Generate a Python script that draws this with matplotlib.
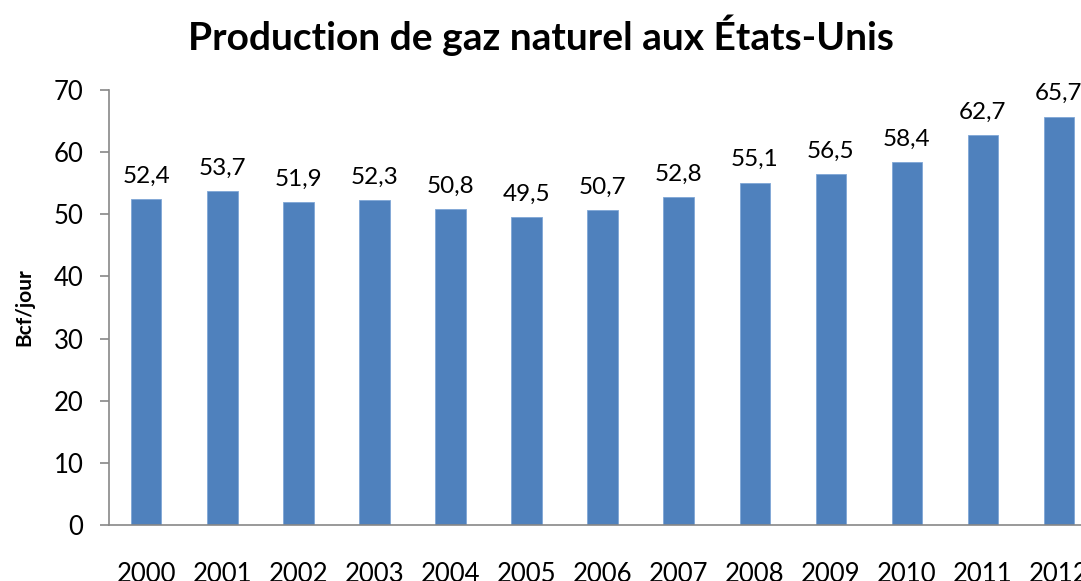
import matplotlib
matplotlib.use("Agg")
import matplotlib.pyplot as plt

years = ["2000", "2001", "2002", "2003", "2004", "2005", "2006",
         "2007", "2008", "2009", "2010", "2011", "2012"]
production = [52.4, 53.7, 51.9, 52.3, 50.8, 49.5, 50.7,
              52.8, 55.1, 56.5, 58.4, 62.7, 65.7]

plt.rcParams['font.family'] = ['Lato', 'DejaVu Sans']

fig = plt.figure(figsize=(10.81, 5.81), dpi=100)
# axes extends past the right edge, as in the cropped original
ax = fig.add_axes([109 / 1081, 56 / 581, 988 / 1081, 435 / 581])

x = range(len(years))
bars = ax.bar(x, production, width=0.4, color='#4F81BD', edgecolor='#7FA6D6', linewidth=0.6)

for xi, v in zip(x, production):
    ax.text(xi, v + 2.0, f"{v:.1f}".replace('.', ','), ha='center', va='bottom', fontsize=17.5)

ax.set_xlim(-0.49, 12.5)
ax.set_ylim(0, 70)
ax.set_yticks(range(0, 71, 10))
ax.set_xticks(list(x))
ax.set_xticklabels(years)

ax.tick_params(axis='y', labelsize=18.5, length=6.5, width=1.2, color='#888888', pad=12)
ax.tick_params(axis='x', labelsize=18.5, length=0, pad=27)

for side in ['top', 'right']:
    ax.spines[side].set_visible(False)
for side in ['left', 'bottom']:
    ax.spines[side].set_color('#888888')
    ax.spines[side].set_linewidth(1.2)

ax.set_ylabel('Bcf/jour', fontsize=15, fontweight='bold', labelpad=14)

fig.text(0.5, 0.94, 'Production de gaz naturel aux États-Unis',
         ha='center', va='center', fontsize=28, fontweight='bold')

fig.savefig('out.png', dpi=100)
